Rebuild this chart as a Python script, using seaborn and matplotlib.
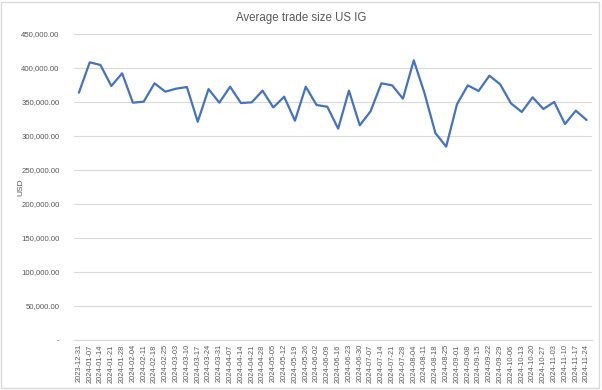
import numpy as np
import pandas as pd
import seaborn as sns
import matplotlib.pyplot as plt
from matplotlib.ticker import FuncFormatter
from matplotlib.patches import Rectangle

# weekly dates and average trade size (USD)
weeks = pd.date_range("2023-12-31", "2024-11-24", freq="7D").strftime("%Y-%m-%d").tolist()
avg_size = [363700, 408300, 404400, 373500, 392200, 349000, 350500, 377500,
            365200, 369600, 372000, 321000, 369000, 349000, 372500, 348500,
            349500, 366700, 342000, 357800, 322500, 372500, 345600, 343000,
            310800, 366700, 315700, 336300, 377500, 374500, 354900, 411300,
            362700, 304400, 284300, 346600, 374500, 366200, 388700, 376000,
            348000, 335300, 356900, 339700, 350000, 317600, 337300, 323500]

df = pd.DataFrame({"week": weeks, "usd": avg_size})

sns.set_style("white")
plt.rcParams['font.family'] = ['Liberation Sans', 'DejaVu Sans']

fig = plt.figure(figsize=(6.02, 3.90), dpi=100)
ax = fig.add_axes([73.5 / 602, 50 / 390, 518.5 / 602, 306 / 390])

sns.lineplot(data=df, x="week", y="usd", ax=ax, color="#4472C4", linewidth=1.6)

ax.set_xlim(-0.5, len(weeks) - 0.5)
ax.set_ylim(0, 450000)
ax.set_yticks(np.arange(0, 450001, 50000))
ax.yaxis.set_major_formatter(FuncFormatter(lambda v, p: "-" if v == 0 else f"{v:,.2f}"))
ax.grid(axis="y", color="#D9D9D9", linewidth=0.8)
ax.set_axisbelow(True)
for s in ["top", "right", "left"]:
    ax.spines[s].set_visible(False)
ax.spines["bottom"].set_color("#D9D9D9")
ax.spines["bottom"].set_linewidth(0.8)

ax.tick_params(axis="x", rotation=90, labelsize=5.4, colors="#595959", length=0, pad=3)
ax.tick_params(axis="y", labelsize=5.6, colors="#595959", length=0, pad=10)

ax.set_xlabel("")
ax.set_ylabel("USD", fontsize=6, color="#595959", labelpad=14)
ax.yaxis.set_label_coords(-0.094, 0.5)

fig.suptitle("Average trade size US IG", x=0.5, y=0.968, fontsize=8.3, color="#595959")

fig.patches.append(Rectangle((0.002, 0.004), 0.993, 0.992, transform=fig.transFigure,
                             fill=False, edgecolor="#D9D9D9", linewidth=1))

fig.savefig("out.png", dpi=100)
